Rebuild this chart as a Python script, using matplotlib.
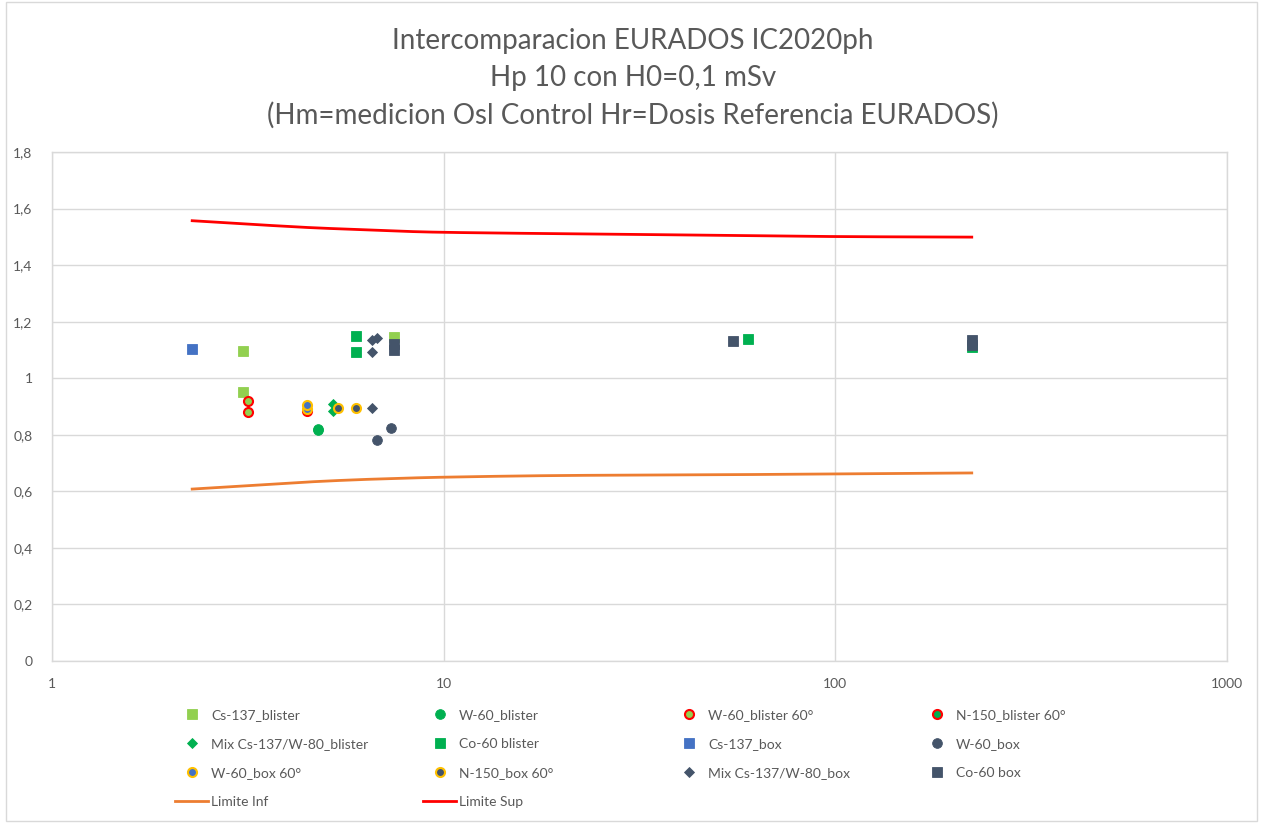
import matplotlib
matplotlib.use("Agg")
import numpy as np
import matplotlib.pyplot as plt
from matplotlib.patches import Rectangle
from matplotlib.ticker import FixedLocator, FuncFormatter, NullLocator

plt.rcParams['font.family'] = ['Lato', 'DejaVu Sans']

# ---------------- data ----------------
cs137_blister_x = [3.07, 3.07, 7.47]
cs137_blister_y = [1.096, 0.951, 1.146]
w60_blister_x = [4.78, 4.78]
w60_blister_y = [0.817, 0.822]
w60_blister60_x = [3.17, 3.17]
w60_blister60_y = [0.919, 0.880]
n150_blister60_x = [4.48]
n150_blister60_y = [0.883]
mix_blister_x = [5.22, 5.22]
mix_blister_y = [0.910, 0.885]
co60_blister_x = [5.96, 5.96, 59.8, 223]
co60_blister_y = [1.150, 1.092, 1.139, 1.110]
cs137_box_x = [2.28]
cs137_box_y = [1.103]
w60_box_x = [7.34, 6.76]
w60_box_y = [0.824, 0.781]
w60_box60_x = [4.48, 4.48]
w60_box60_y = [0.890, 0.905]
n150_box60_x = [5.37, 5.97]
n150_box60_y = [0.895, 0.895]
mix_box_x = [6.55, 6.55, 6.75, 6.55]
mix_box_y = [0.895, 1.135, 1.141, 1.094]
co60_box_x = [7.47, 7.47, 54.8, 223, 223]
co60_box_y = [1.120, 1.100, 1.132, 1.135, 1.117]

lim_x = [2.28, 3.07, 4.5, 6.0, 7.4, 10, 20, 55, 100, 223]
lim_inf = [0.608, 0.619, 0.633, 0.641, 0.645, 0.650, 0.656, 0.659, 0.662, 0.665]
lim_sup = [1.557, 1.546, 1.533, 1.526, 1.521, 1.516, 1.511, 1.505, 1.501, 1.499]

x_ticks = [1, 10, 100, 1000]
y_ticks = [0, 0.2, 0.4, 0.6, 0.8, 1.0, 1.2, 1.4, 1.6, 1.8]

title_lines = ["Intercomparacion EURADOS IC2020ph",
               "Hp 10 con H0=0,1 mSv",
               "(Hm=medicion Osl Control Hr=Dosis Referencia EURADOS)"]

# ---------------- style ----------------
GRAY_TXT = '#595959'
GRID = '#D9D9D9'
LGREEN = '#92D050'
GREEN = '#00B050'
BLUE = '#4472C4'
DARK = '#44546A'
GOLD = '#FFC000'
RED = '#FF0000'
ORANGE = '#ED7D31'


def smooth(xs, ys, n=20):
    """Catmull-Rom rendering (like Excel's smoothed line) in log-x space."""
    lx = np.log10(np.asarray(xs, float))
    y = np.asarray(ys, float)
    P = np.column_stack([lx, y])
    P = np.vstack([P[0], P, P[-1]])
    out = []
    for i in range(1, len(P) - 2):
        p0, p1, p2, p3 = P[i - 1], P[i], P[i + 1], P[i + 2]
        t = np.linspace(0, 1, n, endpoint=(i == len(P) - 3))[:, None]
        c = 0.5 * ((2 * p1) + (-p0 + p2) * t + (2 * p0 - 5 * p1 + 4 * p2 - p3) * t ** 2
                   + (-p0 + 3 * p1 - 3 * p2 + p3) * t ** 3)
        out.append(c)
    c = np.vstack(out)
    return 10 ** c[:, 0], c[:, 1]


W, H = 1263, 823
fig = plt.figure(figsize=(W / 100, H / 100), dpi=100)
fig.patches.append(Rectangle((6 / W, 2 / H), (W - 12) / W, (H - 4) / H,
                             transform=fig.transFigure, fill=False,
                             edgecolor=GRID, linewidth=1))

ax = fig.add_axes([52 / W, 1 - 661 / H, (1227 - 52) / W, (661 - 152) / H])
ax.set_xscale('log')
ax.set_xlim(1, 1000)
ax.set_ylim(0, 1.8)
ax.xaxis.set_major_locator(FixedLocator(x_ticks))
ax.xaxis.set_minor_locator(NullLocator())
ax.xaxis.set_major_formatter(FuncFormatter(lambda v, p: f"{int(round(v))}"))
ax.yaxis.set_major_locator(FixedLocator(y_ticks))
ax.yaxis.set_major_formatter(FuncFormatter(
    lambda v, p: ("0" if abs(v) < 1e-9 else (f"{v:g}").replace('.', ','))))
ax.grid(True, which='major', color=GRID, linewidth=1)
ax.set_axisbelow(True)
for s in ax.spines.values():
    s.set_color(GRID)
    s.set_linewidth(1)
ax.tick_params(length=0, labelsize=10, labelcolor=GRAY_TXT, pad=14)
ax.tick_params(axis='x', pad=12)

# lines
sx, sy = smooth(lim_x, lim_inf)
l_inf, = ax.plot(sx, sy, color=ORANGE, lw=2, label='Limite Inf')
sx, sy = smooth(lim_x, lim_sup)
l_sup, = ax.plot(sx, sy, color=RED, lw=2, label='Limite Sup')

ms = 7
def sc(x, y, marker, fc, ec, label, size=ms, mew=0.6):
    h, = ax.plot(x, y, linestyle='none', marker=marker, markersize=size,
                 markerfacecolor=fc, markeredgecolor=ec, markeredgewidth=mew,
                 label=label, zorder=3)
    return h

h_cs137_bl = sc(cs137_blister_x, cs137_blister_y, 's', LGREEN, LGREEN, 'Cs-137_blister')
h_w60_bl = sc(w60_blister_x, w60_blister_y, 'o', GREEN, GREEN, 'W-60_blister')
h_w60_bl60 = sc(w60_blister60_x, w60_blister60_y, 'o', LGREEN, RED, 'W-60_blister 60°', size=6.5, mew=1.5)
h_n150_bl60 = sc(n150_blister60_x, n150_blister60_y, 'o', GREEN, RED, 'N-150_blister 60°', size=6.5, mew=1.5)
h_mix_bl = sc(mix_blister_x, mix_blister_y, 'D', GREEN, GREEN, 'Mix Cs-137/W-80_blister', size=5.5)
h_co60_bl = sc(co60_blister_x, co60_blister_y, 's', GREEN, GREEN, 'Co-60 blister')
h_cs137_box = sc(cs137_box_x, cs137_box_y, 's', BLUE, BLUE, 'Cs-137_box')
h_w60_box = sc(w60_box_x, w60_box_y, 'o', DARK, DARK, 'W-60_box')
h_w60_box60 = sc(w60_box60_x, w60_box60_y, 'o', BLUE, GOLD, 'W-60_box 60°', size=6.5, mew=1.5)
h_n150_box60 = sc(n150_box60_x, n150_box60_y, 'o', DARK, GOLD, 'N-150_box 60°', size=6.5, mew=1.5)
h_mix_box = sc(mix_box_x, mix_box_y, 'D', DARK, DARK, 'Mix Cs-137/W-80_box', size=5.5)
h_co60_box = sc(co60_box_x, co60_box_y, 's', DARK, DARK, 'Co-60 box')

# title
for txt, yp in zip(title_lines, [41, 78, 115]):
    fig.text(633 / W, 1 - yp / H, txt, ha='center', va='center',
             fontsize=20, color=GRAY_TXT)

# legend: four columns, placed individually
cols = [
    ([h_cs137_bl, h_mix_bl, h_w60_box60, l_inf], 175),
    ([h_w60_bl, h_co60_bl, h_n150_box60, l_sup], 423),
    ([h_w60_bl60, h_cs137_box, h_mix_box], 672),
    ([h_n150_bl60, h_w60_box, h_co60_box], 920),
]
for handles, xpx in cols:
    fig.legend(handles=handles, labels=[h.get_label() for h in handles],
               loc='upper left', bbox_to_anchor=(xpx / W, 1 - 709 / H),
               frameon=False, fontsize=10, labelcolor=GRAY_TXT,
               handlelength=2.4, handletextpad=0.2, labelspacing=1.22,
               borderaxespad=0, borderpad=0, numpoints=1)

fig.savefig('out.png', dpi=100)
